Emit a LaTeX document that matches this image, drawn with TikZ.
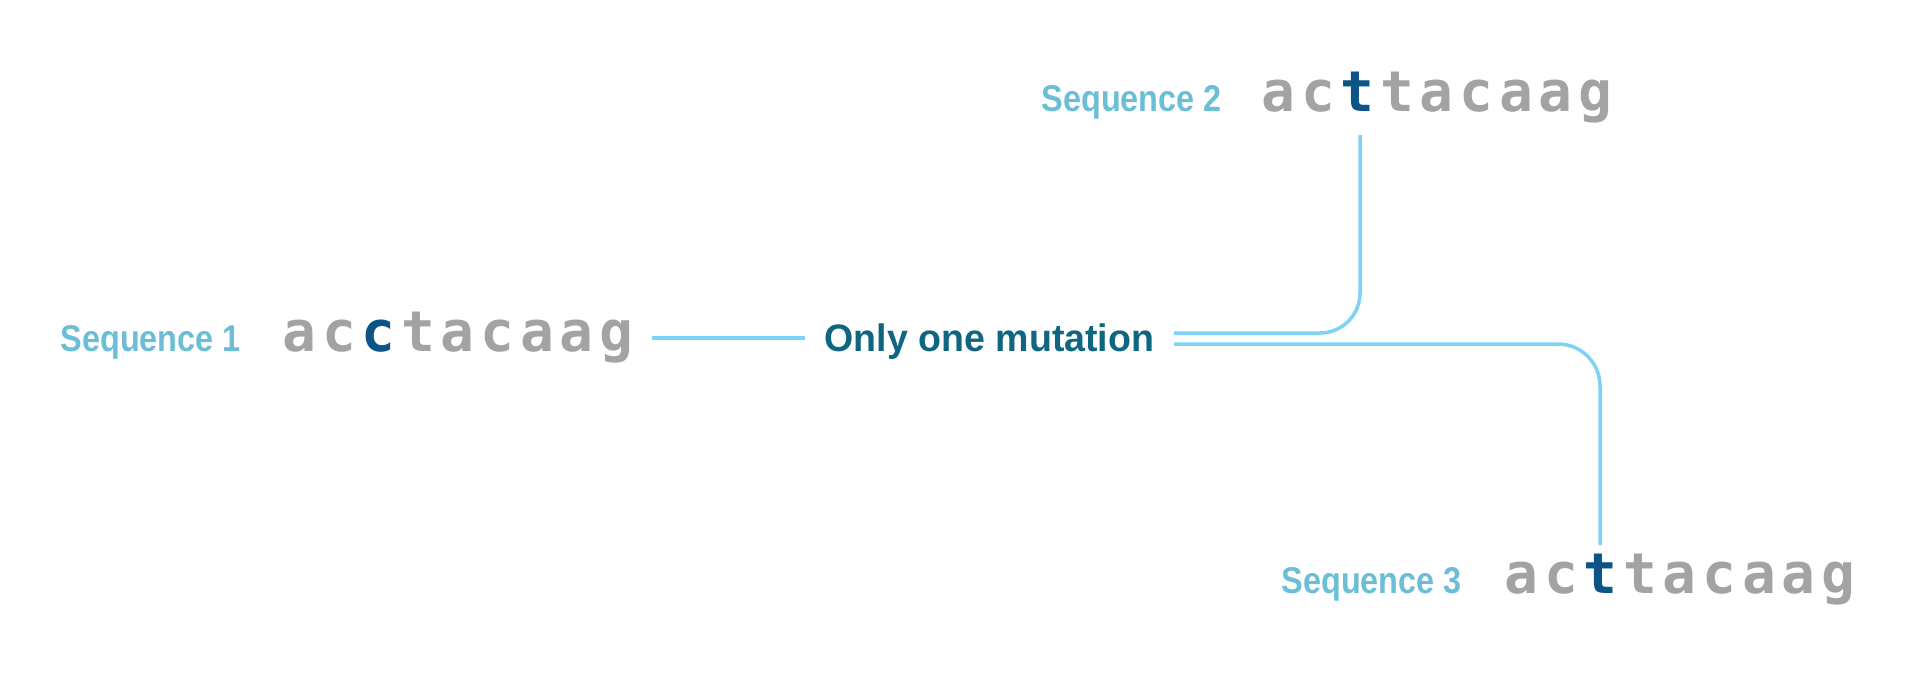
\documentclass[tikz,border=0pt]{standalone}
\usepackage{fontspec}
\usepackage{tikz}
\setmainfont{Liberation Sans}
\newfontfamily\labelfont[FakeStretch=0.87]{Liberation Sans}
\newfontfamily\mutfont[FakeStretch=0.98]{Liberation Sans}
\newfontfamily\basefont{DejaVu Sans Mono}
\definecolor{labelblue}{RGB}{108,190,214}
\definecolor{basegray}{RGB}{163,163,163}
\definecolor{pointblue}{RGB}{12,84,134}
\definecolor{mutteal}{RGB}{14,102,128}
\definecolor{linkblue}{RGB}{125,210,245}
\newcommand{\base}[1]{\makebox[3.96mm]{#1}}
\newcommand{\hl}[1]{\base{\textcolor{pointblue}{#1}}}
\tikzset{
  seqlabel/.style={anchor=base west, inner sep=0pt, text=labelblue,
    font=\labelfont\bfseries\fontsize{10.6}{12}\selectfont},
  seqtext/.style={anchor=base west, inner xsep=0.15cm, inner ysep=0pt,
    text height=0.32cm, text depth=0.06cm, text=basegray,
    font=\basefont\bfseries\fontsize{16}{19}\selectfont},
  mutlabel/.style={anchor=base west, inner xsep=0.19cm, inner ysep=0pt,
    text height=0.32cm, text depth=0.06cm, text=mutteal,
    font=\mutfont\bfseries\fontsize{10.9}{13}\selectfont},
  link/.style={draw=linkblue, line width=1pt}
}

\begin{document}
\begin{tikzpicture}
\useasboundingbox (0,0) rectangle (19.2,6.8);
% sequences
\node[seqlabel] (labA) at (0.60,3.29) {Sequence 1};
\node[seqtext] (seqA) at (2.64,3.29) {\base{a}\base{c}\hl{c}\base{t}\base{a}\base{c}\base{a}\base{a}\base{g}};
\node[seqlabel] (labB) at (10.41,5.69) {Sequence 2};
\node[seqtext] (seqB) at (12.43,5.69) {\base{a}\base{c}\hl{t}\base{t}\base{a}\base{c}\base{a}\base{a}\base{g}};
\node[seqlabel] (labC) at (12.81,0.87) {Sequence 3};
\node[seqtext] (seqC) at (14.86,0.87) {\base{a}\base{c}\hl{t}\base{t}\base{a}\base{c}\base{a}\base{a}\base{g}};
\node[mutlabel] (mut) at (8.05,3.29) {Only one mutation};
\coordinate (endB) at (13.60,5.45);
\coordinate (endC) at (16.00,1.35);
% links
\draw[link] (seqA.east) -- (mut.west);
\draw[link, rounded corners=0.4cm] ([yshift=0.05cm]mut.east) -| (endB);
\draw[link, rounded corners=0.42cm] ([yshift=-0.06cm]mut.east) -| (endC);
\end{tikzpicture}
\end{document}
